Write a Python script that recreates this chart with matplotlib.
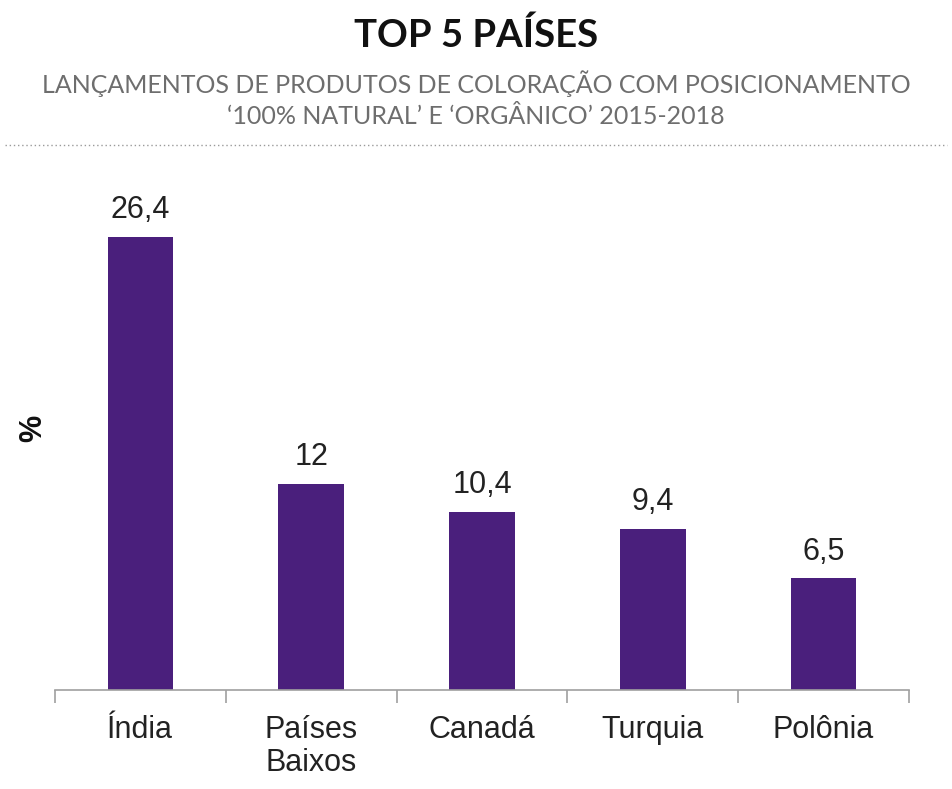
import matplotlib.pyplot as plt
import numpy as np

paises = ['Índia', 'Países\nBaixos', 'Canadá', 'Turquia', 'Polônia']
valores = [26.4, 12, 10.4, 9.4, 6.5]

plt.rcParams['font.family'] = ['Liberation Sans', 'DejaVu Sans']

fig = plt.figure(figsize=(9.52, 7.89), dpi=100)
# axes: x from 55 to 909 px, baseline at y=690 px
ax = fig.add_axes([55/952, 1-690/789, 854/952, 540/789])

x = np.arange(len(paises))
ax.bar(x, valores, width=0.385, color='#4a1f7c')
for xi, v in zip(x, valores):
    txt = ('%g' % v).replace('.', ',')
    ax.annotate(txt, (xi, v), xytext=(0, 13.5), textcoords='offset points',
                ha='center', va='baseline', fontsize=22, color='#222222')

ax.set_xlim(-0.5, len(paises) - 0.5)
ax.set_ylim(0, 540/17.16)
ax.set_xticks(np.arange(-0.5, len(paises)), minor=False)
ax.set_xticklabels([])
ax.set_xticks(x, minor=True)
ax.set_xticklabels(paises, minor=True, fontsize=22, color='#222222', linespacing=1.15)
ax.tick_params(axis='x', which='major', length=9, color='#a0a0a0', width=1.2, direction='out')
ax.tick_params(axis='x', which='minor', length=0, pad=18)
ax.set_yticks([])
for s in ['top', 'right', 'left']:
    ax.spines[s].set_visible(False)
ax.spines['bottom'].set_color('#a0a0a0')
ax.spines['bottom'].set_linewidth(1.2)

fig.text(33/952, 1-428/789, '%', rotation=90, ha='center', va='center',
         fontsize=22, fontweight='bold', color='#111111')

fig.text(0.5, 1-47/789, 'TOP 5 PAÍSES', ha='center', va='baseline',
         fontsize=27.5, fontweight='bold', family=['Lato', 'DejaVu Sans'], color='#111111')
fig.text(0.5, 1-93/789, 'LANÇAMENTOS DE PRODUTOS DE COLORAÇÃO COM POSICIONAMENTO',
         ha='center', va='baseline', fontsize=18, family=['Lato', 'DejaVu Sans'], color='#6e6e6e')
fig.text(0.5, 1-124/789, '‘100% NATURAL’ E ‘ORGÂNICO’ 2015-2018',
         ha='center', va='baseline', fontsize=18, family=['Lato', 'DejaVu Sans'], color='#6e6e6e')
fig.add_artist(plt.Line2D([0.005, 0.995], [1-145/789, 1-145/789], color='#9a9a9a',
                          linestyle=(0, (1, 2)), linewidth=1))

fig.savefig('out.png', dpi=100)
